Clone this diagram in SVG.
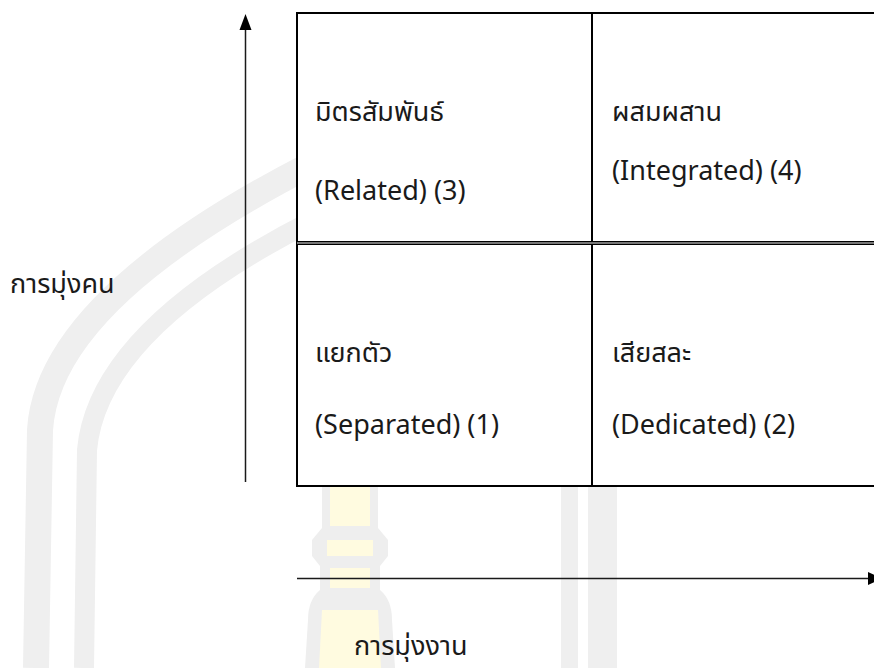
<svg xmlns="http://www.w3.org/2000/svg" width="874" height="668" viewBox="0 0 874 668">
<style>
.t{font-family:"Noto Sans Thai","Noto Sans","Leelawadee UI",sans-serif;font-size:27px;fill:#1a1a1a}
.wm{fill:none;stroke:#efefef}
.cell{fill:#ffffff;stroke:#000000;stroke-width:2}
.ax{stroke:#1a1a1a;stroke-width:1.5;fill:none}
</style>
<rect x="0" y="0" width="874" height="668" fill="#ffffff"/>
<g id="watermark">
<path class="wm" stroke-width="26" d="M36 668 L40 430 Q48 300 310 165"/>
<path class="wm" stroke-width="20" d="M84 668 L87 450 Q98 330 310 222"/>
<rect x="561" y="486" width="17" height="182" fill="#efefef"/>
<rect x="588" y="486" width="29" height="182" fill="#efefef"/>
<path d="M322 486 L378 486 L378 528 L388 540 L388 556 L380 566 L380 590 Q392 600 392 620 L395 668 L305 668 L308 620 Q308 600 320 590 L320 566 L312 556 L312 540 L322 528 Z" fill="#eeeeee"/>
<path d="M330 486 L370 486 L370 526 L330 526 Z M327 540 L373 540 L373 556 L327 556 Z M330 568 L370 568 L370 588 L330 588 Z M322 610 L378 610 L381 668 L319 668 Z" fill="#fffbe0"/>
</g>
<g id="cell-related">
<rect class="cell" x="297" y="13" width="295" height="229"/>
<text class="t" x="315" y="121">มิตรสัมพันธ์</text>
<text class="t" x="315" y="200">(Related) (3)</text>
</g>
<g id="cell-integrated">
<rect class="cell" x="592" y="13" width="290" height="229"/>
<text class="t" x="612" y="121">ผสมผสาน</text>
<text class="t" x="612" y="180">(Integrated) (4)</text>
</g>
<g id="cell-separated">
<rect class="cell" x="297" y="244" width="295" height="242"/>
<text class="t" x="315" y="362">แยกตัว</text>
<text class="t" x="315" y="434">(Separated) (1)</text>
</g>
<g id="cell-dedicated">
<rect class="cell" x="592" y="244" width="290" height="242"/>
<text class="t" x="612" y="362">เสียสละ</text>
<text class="t" x="612" y="434">(Dedicated) (2)</text>
</g>
<g id="connectors">
<line x1="297" y1="243" x2="874" y2="243" stroke="#777" stroke-width="2"/>
<line class="ax" x1="245.5" y1="482" x2="245.5" y2="28"/>
<polygon points="245.5,14 239.5,30 251.5,30" fill="#000"/>
<line class="ax" x1="297" y1="578.5" x2="870" y2="578.5"/>
<polygon points="868,572 882,578.5 868,585" fill="#000"/>
</g>
<g id="label-people">
<text class="t" x="10" y="293">การมุ่งคน</text>
</g>
<g id="label-task">
<text class="t" x="354" y="655">การมุ่งงาน</text>
</g>
</svg>
